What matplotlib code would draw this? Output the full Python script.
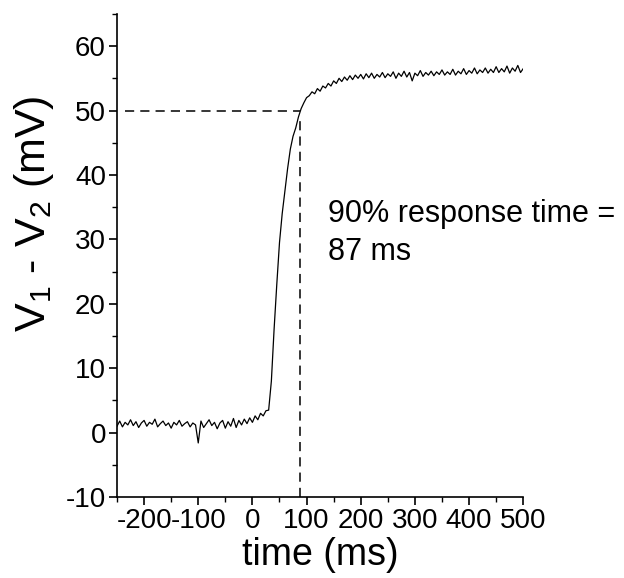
import numpy as np
import matplotlib
matplotlib.use("Agg")
import matplotlib.pyplot as plt
from matplotlib.ticker import MultipleLocator

plt.rcParams['font.family'] = ['Liberation Sans', 'DejaVu Sans']
plt.rcParams['mathtext.default'] = 'regular'
plt.rcParams['axes.unicode_minus'] = False

# trace, one value every 5 ms starting at -250 ms
v = [1.0,1.8,0.9,1.6,1.2,2.0,1.1,1.7,0.8,1.5,
     1.9,1.0,1.6,1.3,2.1,0.9,1.4,1.8,1.1,1.5,
     0.7,1.6,1.2,1.9,1.0,1.4,1.7,0.9,1.5,1.2,
     -1.6,1.8,0.8,1.4,2.0,1.1,1.6,0.6,1.5,1.9,
     0.7,1.7,1.0,2.2,0.8,1.9,1.2,2.1,1.4,2.3,
     1.6,2.6,2.0,3.0,2.6,3.4,3.5,8.0,16.0,23.0,
     29.5,34.0,37.5,41.0,44.0,46.0,47.3,49.0,50.3,51.2,
     52.0,52.3,52.9,52.6,53.4,53.0,53.8,53.5,54.2,53.8,
     54.6,54.2,55.0,54.5,55.2,54.7,55.4,54.8,55.5,55.0,
     55.6,54.9,55.7,55.1,55.8,55.0,55.6,55.2,55.9,55.1,
     55.7,55.3,56.0,55.0,55.8,55.3,56.1,55.2,55.9,54.6,
     55.8,55.4,56.2,55.3,55.9,55.5,56.1,55.4,56.0,55.6,
     56.3,55.5,56.0,55.6,56.4,55.5,56.1,55.7,56.5,55.6,
     56.2,55.8,56.6,55.7,56.3,55.9,56.6,55.8,56.4,55.9,
     56.8,55.9,56.5,56.0,56.9,55.8,56.6,56.1,57.0,55.9,
     56.5]
t0 = -250
dt = 5
t = t0 + dt*np.arange(len(v))

t90 = 87
v90 = 50

fig = plt.figure(figsize=(6.24, 5.78), dpi=100)
ax = fig.add_axes([0.1875, 0.14, 0.651, 0.836])

ax.plot(t, v, color='black', lw=0.9)
ax.plot([-235, t90], [v90, v90], color='black', lw=1.1, ls=(0, (6, 4)))
ax.plot([t90, t90], [-10, v90 - 1], color='black', lw=1.1, ls=(0, (6, 4)))

ax.text(140, 36.3, "90% response time =\n87 ms", fontsize=22, linespacing=1.35,
        va='top', ha='left')

ax.set_xlim(-250, 500)
ax.set_ylim(-10, 65)
ax.xaxis.set_major_locator(MultipleLocator(100))
ax.xaxis.set_minor_locator(MultipleLocator(50))
ax.yaxis.set_major_locator(MultipleLocator(10))
ax.yaxis.set_minor_locator(MultipleLocator(5))
ax.set_yticks(np.arange(-10, 61, 10))
ax.spines['top'].set_visible(False)
ax.spines['right'].set_visible(False)
for s in ['left', 'bottom']:
    ax.spines[s].set_linewidth(1.2)
ax.tick_params(which='major', length=6, width=1.2, labelsize=20, pad=2)
ax.tick_params(which='minor', length=3.5, width=1.0)

ax.set_xlabel("time (ms)", fontsize=27, labelpad=2)
ax.set_ylabel("V$_1$ - V$_2$ (mV)", fontsize=31)
ax.yaxis.set_label_coords(-0.15, 0.586)

fig.savefig("out.png", dpi=100, facecolor='white')
